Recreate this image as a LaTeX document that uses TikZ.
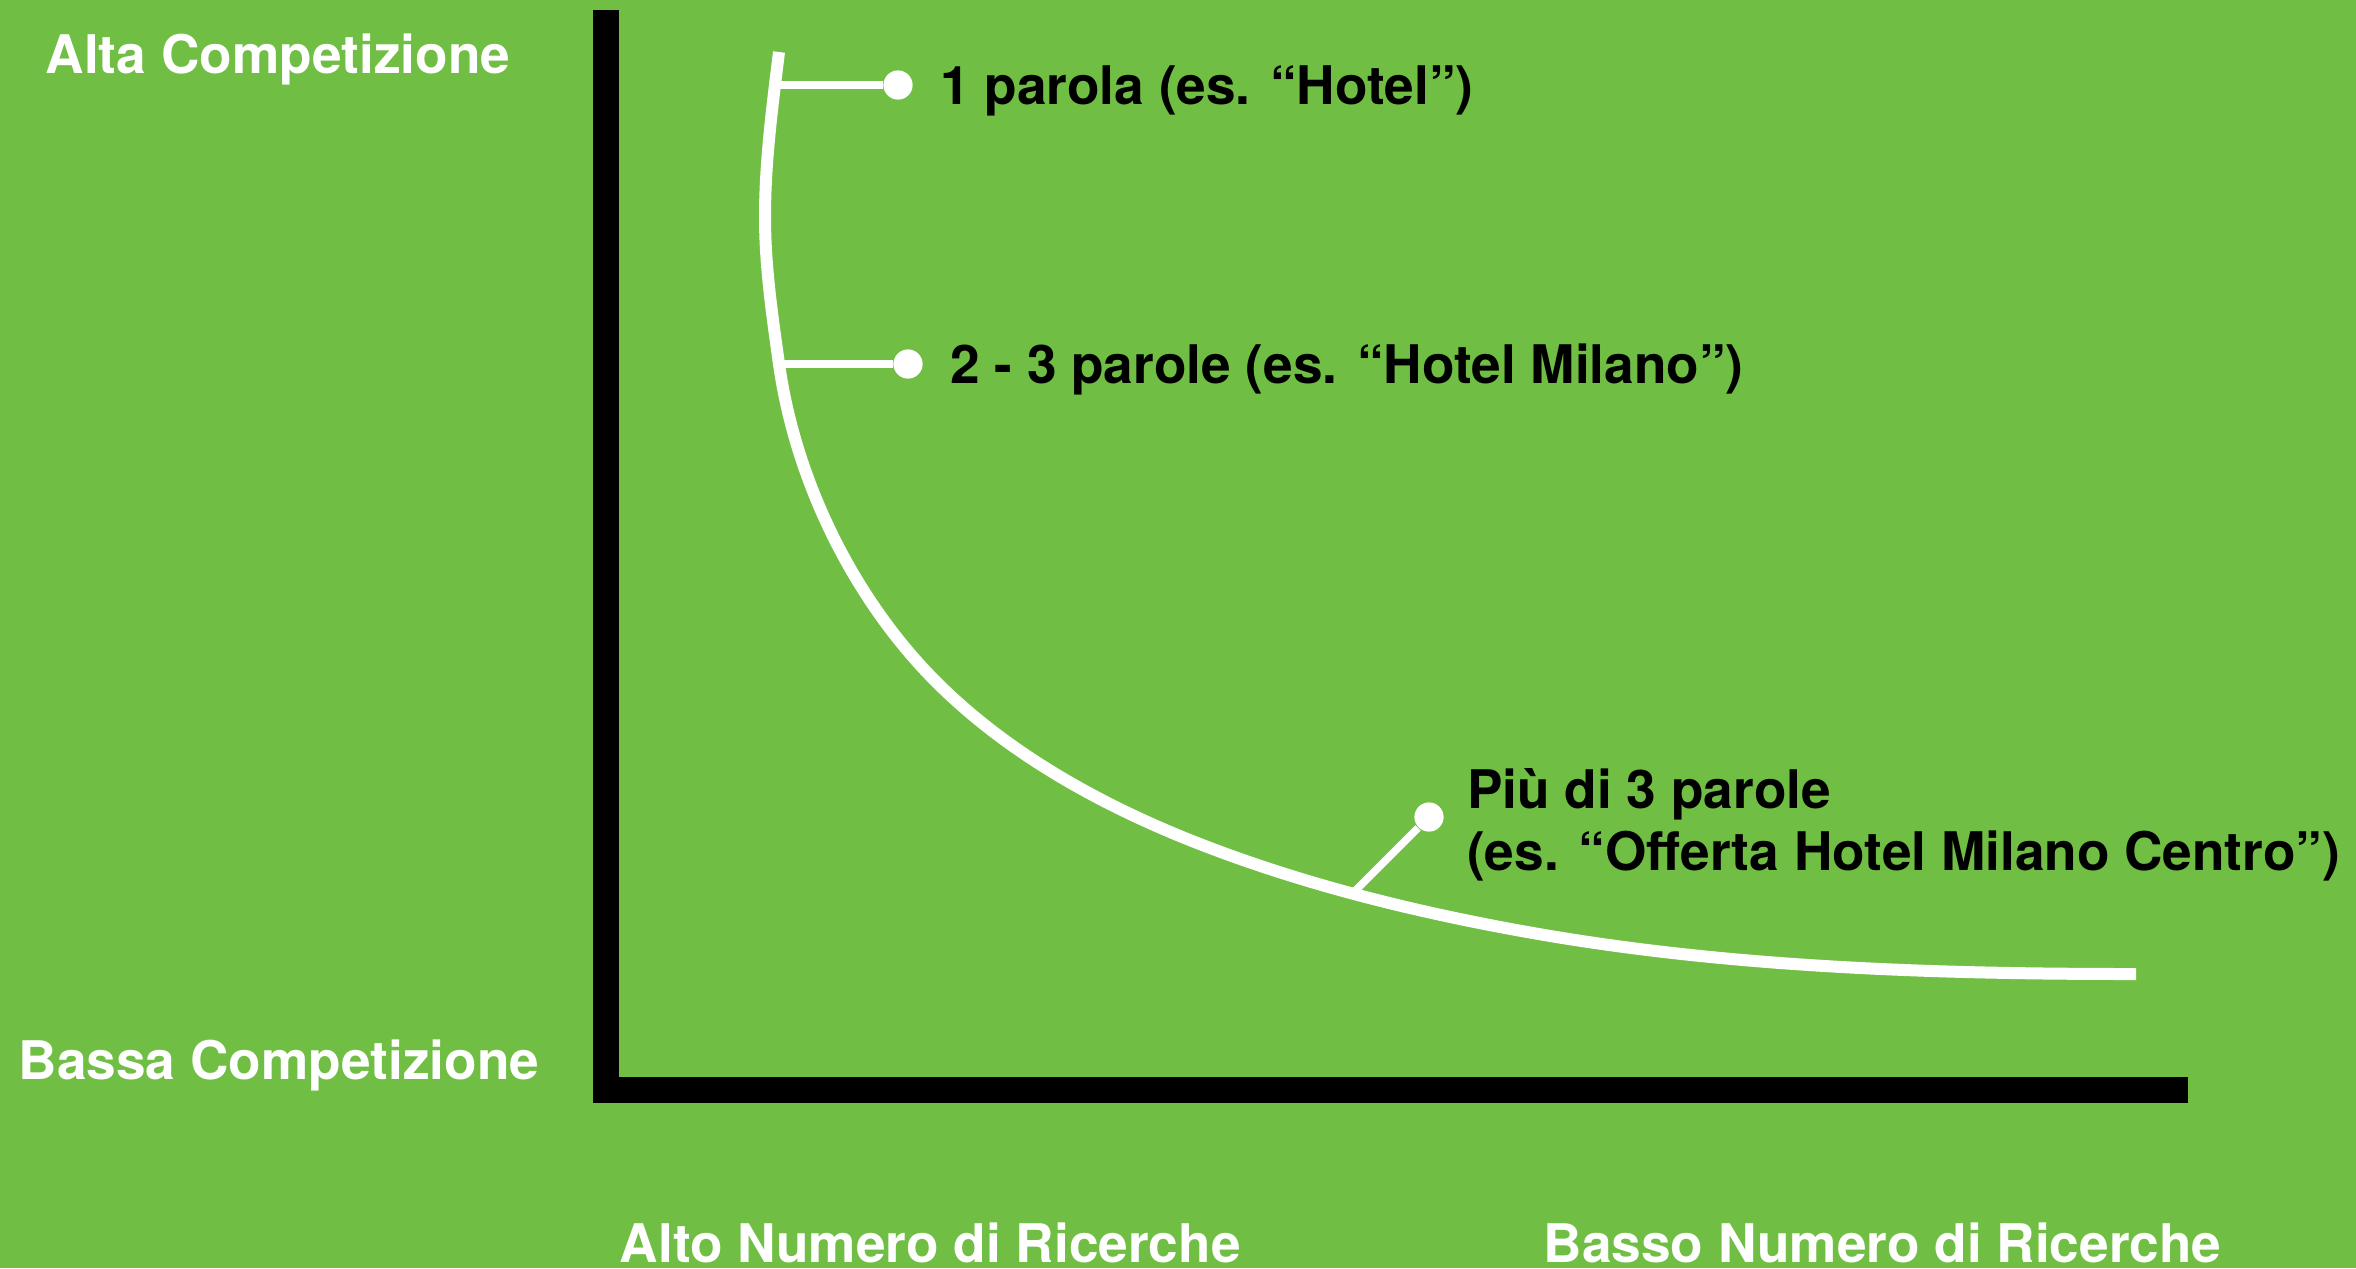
\documentclass[tikz,border=0pt]{standalone}
\usepackage{fontspec}
\setmainfont{TeX Gyre Heros}
\usepackage{xcolor}
\usepackage{tikz}
\usetikzlibrary{positioning}

\definecolor{prato}{RGB}{112,191,68}

\begin{document}
\begin{tikzpicture}[x=0.25pt,y=-0.25pt,
	assi/.style={line width=6.5pt,black},
	curva/.style={line width=3pt,white},
	tick/.style={line width=1.9pt,white},
	dot/.style={circle,fill=white,minimum size=7.3pt,inner sep=0pt},
	scritta/.style={font=\fontsize{13.3pt}{15.5pt}\selectfont\bfseries,inner sep=0pt},
	lab/.style={scritta,text height=9.6pt,text depth=0pt},
	asse/.style={scritta,white,anchor=base west}]
			\fill[prato] (0,0) rectangle (2356,1268);
			\useasboundingbox (0,0) rectangle (2356,1268);
			
			% assi
			\coordinate (top) at (606,10);
			\coordinate (o) at (606,1089.5);
			\coordinate (fine) at (2188,1089.5);
			\draw[assi] (top) -- (o) -- (fine);
			
			\node[asse] (alta) at (45,73) {Alta Competizione};
			\node[asse] (bassa) at (18,1079) {Bassa Competizione};
			\node[asse] (altoN) at (619,1262) {Alto Numero di Ricerche};
			\node[asse] (bassoN) at (1543,1262) {Basso Numero di Ricerche};
			
			% curva
			\draw[curva] (779,52) .. controls (772.3,106.6) and (765,162) .. (765,217)
				.. controls (765,266) and (772.2,315.5) .. (779,364)
				.. controls (793.5,467) and (840.1,570.3) .. (907,650)
				.. controls (983.5,741.2) and (1093.9,803.4) .. (1205,846)
				.. controls (1310.5,886.5) and (1421.7,913.4) .. (1533,933)
				.. controls (1730,967.7) and (1936,974) .. (2136,974);
			
			\coordinate (c1) at (771,85);
			\coordinate (c2) at (779,364);
			\coordinate (c3) at (1355,891);
			
			\node[dot] (d1) at (898,85) {};
			\node[dot] (d2) at (908,364) {};
			\node[dot] (d3) at (1429,817) {};
			
			\draw[tick] (c1) -- (d1);
			\draw[tick] (c2) -- (d2);
			\draw[tick] (c3) -- (d3);
			
			\node[lab] (l1) [right = 6.5pt of d1] {1 parola (es. “Hotel”)};
			\node[lab] (l2) [right = 6.5pt of d2] {2 - 3 parole (es. “Hotel Milano”)};
			\node[scritta,align=left] (l3) [right = 5.5pt of d3, yshift=-1.9pt] {Più di 3 parole\\(es. “Offerta Hotel Milano Centro”)};
\end{tikzpicture}
\end{document}
